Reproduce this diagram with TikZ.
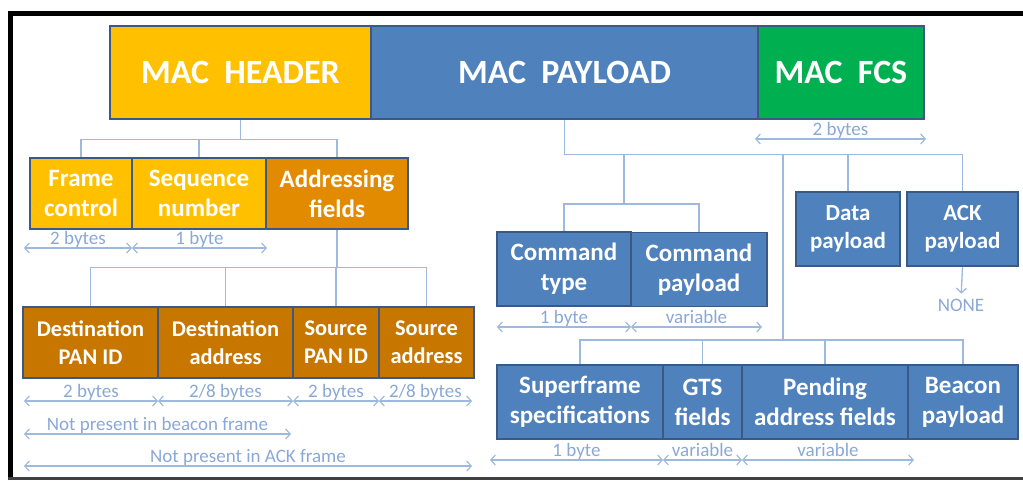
\documentclass[tikz,border=0pt]{standalone}
\usepackage{fontspec}
\setmainfont{Carlito}
\usetikzlibrary{arrows.meta}

\definecolor{hdrY}{HTML}{FFC000}
\definecolor{payB}{HTML}{4F81BD}
\definecolor{fcsG}{HTML}{00B050}
\definecolor{addrO}{HTML}{E38B00}
\definecolor{subO}{HTML}{C77700}
\definecolor{bdr}{HTML}{3A5A85}
\definecolor{lnB}{HTML}{9DB9DD}
\definecolor{lblB}{HTML}{8AA8D6}

% span arrow with its size label: x1, x2, y, text, label name
\newcommand{\bytespan}[5]{%
  \draw[dimline] (#1,#3) -- (#2,#3)
    node[lbl, pos=0.5, anchor=base, yshift=4pt] (#5) {#4};}

\begin{document}
\begin{tikzpicture}[x=1pt,y=-1pt,
  fld/.style={draw=bdr, line width=1.6pt, text=white, align=center,
    inner sep=0pt, font=\bfseries},
  topfont/.style={font=\fontsize{34}{40}\selectfont\bfseries},
  midfont/.style={font=\fontsize{25}{30}\selectfont\bfseries},
  subfont/.style={font=\fontsize{22.4}{28}\selectfont\bfseries},
  smfont/.style={font=\fontsize{23}{28}\selectfont\bfseries},
  conn/.style={draw=lnB, line width=1.3pt},
  dimline/.style={draw=lnB, line width=1.2pt,
    {Straight Barb[length=4.5pt,width=10pt]}-{Straight Barb[length=4.5pt,width=10pt]}},
  lbl/.style={text=lblB, inner sep=0pt, font=\fontsize{19}{22}\selectfont}]
\useasboundingbox (0,0) rectangle (1023,480);

% page frame
\draw[line width=5pt] (10.5,480) -- (10.5,13.5) -- (1023,13.5);
\draw[line width=3pt, black!75] (8,478.5) -- (1023,478.5);

% MAC frame
\node[fld, topfont, fill=hdrY, minimum width=261pt, minimum height=93pt] (hdr) at (240.5,72.5) {MAC\hspace{0.45em}HEADER};
\node[fld, topfont, fill=payB, minimum width=387pt, minimum height=93pt] (pl) at (564.5,72.5) {MAC\hspace{0.45em}PAYLOAD};
\node[fld, topfont, fill=fcsG, minimum width=166pt, minimum height=93pt] (fcs) at (841,72.5) {MAC\hspace{0.45em}FCS};

% header fields
\node[fld, midfont, fill=hdrY, minimum width=102pt, minimum height=71pt] (fc) at (81,193.5) {Frame\\control};
\node[fld, midfont, fill=hdrY, minimum width=134pt, minimum height=71pt] (sn) at (199,193.5) {Sequence\\number};
\node[fld, midfont, fill=addrO, minimum width=142pt, minimum height=71pt] (af) at (337,193.5) {Addressing\\fields};

% addressing fields
\node[fld, subfont, fill=subO, minimum width=135pt, minimum height=71pt] (dp) at (90.5,342.5) {Destination\\PAN ID};
\node[fld, subfont, fill=subO, minimum width=135pt, minimum height=71pt] (da) at (225.5,342.5) {Destination\\address};
\node[fld, subfont, fill=subO, minimum width=86pt, minimum height=71pt] (sp) at (336,342.5) {Source\\PAN ID};
\node[fld, subfont, fill=subO, minimum width=95pt, minimum height=71pt] (sa) at (426.5,342.5) {Source\\address};

% payload variants
\node[fld, midfont, fill=payB, minimum width=134pt, minimum height=74pt] (ct) at (564,269) {Command\\type};
\node[fld, midfont, fill=payB, minimum width=136pt, minimum height=74pt] (cp) at (699,269.5) {Command\\payload};
\node[fld, smfont, fill=payB, minimum width=104pt, minimum height=74pt] (dpl) at (848,229) {Data\\payload};
\node[fld, smfont, fill=payB, minimum width=111pt, minimum height=74pt] (ack) at (962.5,229) {ACK\\payload};
\node[lbl] (none) at (961,305) {NONE};

\node[fld, midfont, fill=payB, minimum width=166pt, minimum height=74pt] (sf) at (580,402) {Superframe\\specifications};
\node[fld, midfont, fill=payB, minimum width=79pt, minimum height=74pt] (gts) at (702.5,402) {GTS\\fields};
\node[fld, midfont, fill=payB, minimum width=166pt, minimum height=74pt] (pa) at (825,402) {Pending\\address fields};
\node[fld, midfont, fill=payB, minimum width=110pt, minimum height=74pt] (bp) at (963,402) {Beacon\\payload};

% tree connectors
\draw[conn] (hdr.south) -- ++(0,20) coordinate (hj);
\draw[conn] (fc.north) |- (hj) -| (af.north);
\draw[conn] (sn.north) -- (sn.north |- hj);

\draw[conn] (af.south) -- ++(0,38) coordinate (aj);
\draw[conn] (dp.north) |- (aj) -| (sa.north);
\draw[conn] (da.north) -- (da.north |- aj);
\draw[conn] (sp.north) -- (sp.north |- aj);

\draw[conn] (pl.south) -- ++(0,35) coordinate (pj);
\draw[conn] (pj) -| (ack.north);
\draw[conn] (dpl.north) -- (dpl.north |- pj);

\coordinate (cj) at (624,204);
\draw[conn] (cj |- pj) -- (cj);
\draw[conn] (ct.north) |- (cj) -| (cp.north);

\coordinate (bj) at (783,340);
\draw[conn] (bj |- pj) -- (bj);
\draw[conn] (sf.north) |- (bj) -| (bp.north);
\draw[conn] (gts.north) -- (gts.north |- bj);
\draw[conn] (pa.north) -- (pa.north |- bj);

\draw[conn, -{Straight Barb[length=4.5pt,width=10pt]}, shorten >=5pt] (ack.south) -- (none.north);

% field sizes
\bytespan{755}{926}{139}{2 bytes}{sFCS}
\bytespan{24}{132}{248}{2 bytes}{sFC}
\bytespan{132}{267}{248}{1 byte}{sSN}
\bytespan{24}{158}{401}{2 bytes}{sDP}
\bytespan{158}{293}{401}{2/8 bytes}{sDA}
\bytespan{293}{379}{401}{2 bytes}{sSP}
\bytespan{379}{472}{401}{2/8 bytes}{sSA}
\bytespan{24}{291}{434}{Not present in beacon frame}{sNB}
\bytespan{24}{472}{466}{Not present in ACK frame}{sNA}
\bytespan{497}{631}{327}{1 byte}{sCT}
\bytespan{631}{762}{327}{variable}{sCP}
\bytespan{490}{663}{460}{1 byte}{sSF}
\bytespan{663}{742}{460}{variable}{sGT}
\bytespan{742}{914}{460}{variable}{sPA}
\end{tikzpicture}
\end{document}
